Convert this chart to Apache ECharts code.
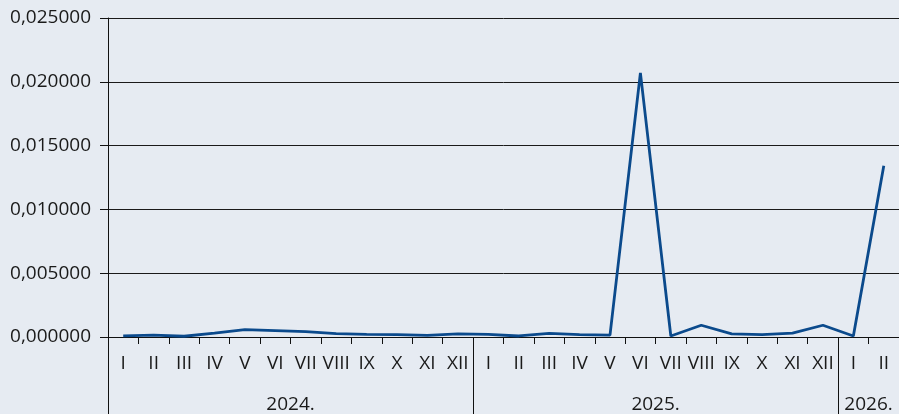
<!DOCTYPE html>
<html>
<head>
<meta charset="utf-8">
<script src="https://cdn.jsdelivr.net/npm/echarts@6/dist/echarts.min.js"></script>
<style>
html,body{margin:0;padding:0;background:#e6ebf2;}
#chart{width:899px;height:414px;}
</style>
</head>
<body>
<div id="chart"></div>
<script>
var months = ['I','II','III','IV','V','VI','VII','VIII','IX','X','XI','XII',
              'I','II','III','IV','V','VI','VII','VIII','IX','X','XI','XII',
              'I','II'];
var years = ['2024.','2025.','2026.'];
var yearStarts = [0, 12, 24, 26];
var yearCenters = [6, 18, 25];
var values2024 = [0.00009, 0.00014, 0.00006, 0.0003, 0.00058, 0.0005, 0.00042, 0.00026, 0.0002, 0.00018, 0.00013, 0.00024];
var values2025 = [0.0002, 0.00008, 0.00028, 0.00018, 0.00014, 0.0207, 0.00008, 0.00092, 0.00024, 0.00019, 0.0003, 0.00092];
var values2026 = [0.00008, 0.01342];
var yTicks = [0, 0.005, 0.01, 0.015, 0.02, 0.025];

var values = values2024.concat(values2025, values2026);
var chart = echarts.init(document.getElementById('chart'));
var font = '"Open Sans", "Noto Sans", sans-serif';
chart.setOption({
  backgroundColor: '#e6ebf2',
  animation: false,
  grid: {left: 108, right: 0, top: 18, bottom: 77, containLabel: false},
  xAxis: [{
    type: 'category',
    data: months,
    boundaryGap: true,
    axisLine: {show: true, lineStyle: {color: '#111', width: 1}},
    axisTick: {show: true, interval: 0, length: 7, lineStyle: {color: '#111', width: 1}},
    axisLabel: {interval: 0, color: '#1a1a1a', fontFamily: font, fontSize: 19, margin: 17},
    splitLine: {show: false}
  }, {
    type: 'value',
    min: 0,
    max: 26,
    position: 'bottom',
    axisLine: {show: false},
    axisTick: {show: true, customValues: yearStarts, length: 80, lineStyle: {color: '#111', width: 1}},
    axisLabel: {show: true, customValues: yearCenters, margin: 58, color: '#1a1a1a', fontFamily: font, fontSize: 19,
      formatter: function (v) { return years[yearCenters.indexOf(v)]; }},
    splitLine: {show: false}
  }],
  yAxis: {
    type: 'value',
    min: yTicks[0],
    max: yTicks[yTicks.length - 1],
    interval: 0.005,
    axisLine: {show: true, lineStyle: {color: '#111', width: 1}},
    axisTick: {show: true, length: 8, lineStyle: {color: '#111'}},
    axisLabel: {color: '#1a1a1a', fontFamily: font, fontSize: 19, margin: 17,
      formatter: function (v) { return v.toFixed(6).replace('.', ','); }},
    splitLine: {show: true, lineStyle: {color: '#1a1a1a', width: 1}}
  },
  series: [{
    type: 'line',
    data: values,
    xAxisIndex: 0,
    symbol: 'none',
    lineStyle: {color: '#0b4a8c', width: 2.8},
    itemStyle: {color: '#0b4a8c'}
  }]
});
</script>
</body>
</html>
